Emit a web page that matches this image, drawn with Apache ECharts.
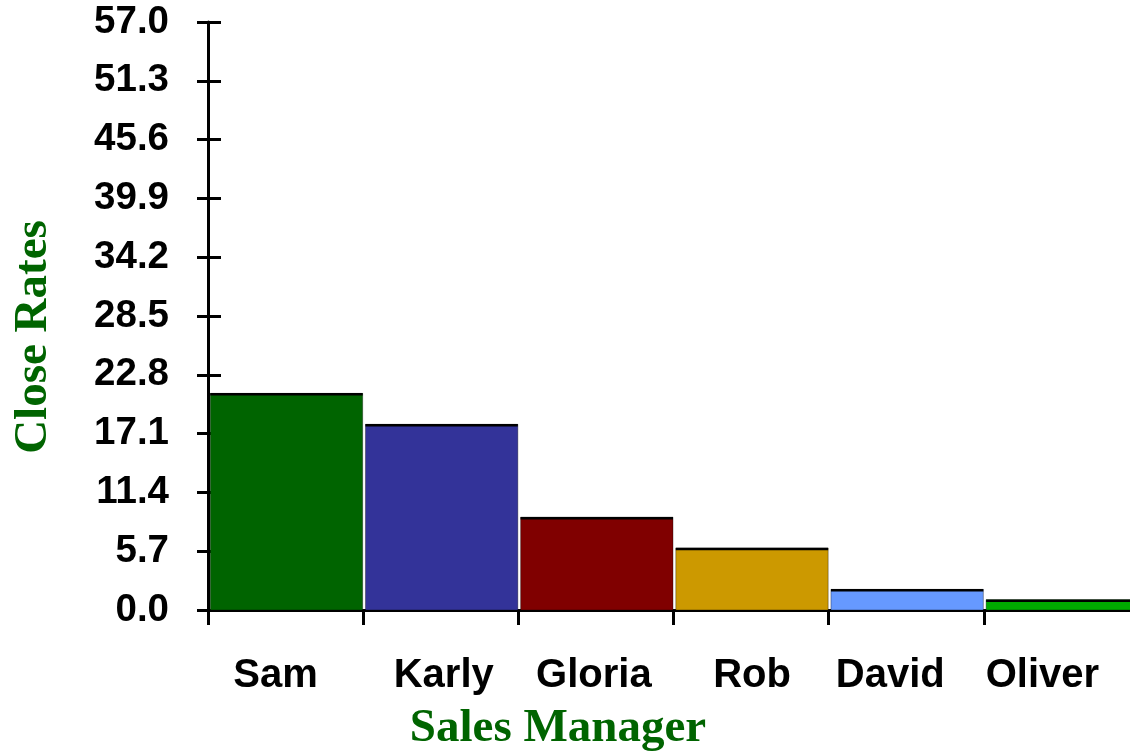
<!DOCTYPE html>
<html>
<head>
<meta charset="utf-8">
<script src="https://cdn.jsdelivr.net/npm/echarts@6/dist/echarts.min.js"></script>
<style>
html,body{margin:0;padding:0;background:#fff;}
#chart{width:1130px;height:751px;}
</style>
</head>
<body>
<div id="chart"></div>
<script>
var categories = ['Sam', 'Karly', 'Gloria', 'Rob', 'David', 'Oliver'];
var closeRates = [21.0, 18.0, 9.0, 6.0, 2.0, 1.0];
var barColors = ['#006400', '#333399', '#800000', '#CC9900', '#6699FF', '#00AA00'];
var labelShift = [-10, 3, -2, 1, -16, -19];
var yMin = 0, yMax = 57, yStep = 5.7;

var chart = echarts.init(document.getElementById('chart'), null, {renderer: 'canvas'});

var labelFont = {fontFamily: '"Liberation Sans", Arial, sans-serif', fontWeight: 'bold', color: '#000'};

var option = {
  animation: false,
  backgroundColor: '#fff',
  grid: {left: 208, top: 22, width: 931, height: 588, containLabel: false, outerBoundsMode: 'none'},
  xAxis: {
    type: 'category',
    data: categories.map(function (c, i) {
      var s = labelShift[i];
      return {value: c, textStyle: {padding: s < 0 ? [0, -2 * s, 0, 0] : [0, 0, 0, 2 * s]}};
    }),
    boundaryGap: true,
    axisLine: {show: true, lineStyle: {color: '#000', width: 3}},
    axisTick: {show: true, length: 15, lineStyle: {color: '#000', width: 3}, alignWithLabel: false},
    axisLabel: Object.assign({fontSize: 40, margin: 46, interval: 0, hideOverlap: false}, labelFont),
    splitLine: {show: false}
  },
  yAxis: [{
    type: 'value',
    min: yMin, max: yMax, interval: yStep,
    axisLine: {show: true, lineStyle: {color: '#000', width: 3}},
    axisTick: {show: true, length: 11, lineStyle: {color: '#000', width: 3}},
    axisLabel: Object.assign({fontSize: 38.5, margin: 39, padding: [14, 0, 0, 0], formatter: function (v) { return v.toFixed(1); }}, labelFont),
    splitLine: {show: false}
  }, {
    type: 'value',
    position: 'left',
    min: yMin, max: yMax, interval: yStep,
    axisLine: {show: false},
    axisTick: {show: true, inside: true, length: 13, lineStyle: {color: '#000', width: 3}},
    axisLabel: {show: false},
    splitLine: {show: false}
  }],
  series: [{
    type: 'custom',
    data: closeRates.map(function (v, i) { return [i, v]; }),
    encode: {x: 0, y: 1},
    renderItem: function (params, api) {
      var idx = api.value(0);
      var v = api.value(1);
      var p0 = api.coord([idx, 0]);
      var p1 = api.coord([idx, v]);
      var bw = api.size([1, 0])[0];
      var x = p0[0] - bw / 2 + 2.3;
      var w = bw - 2.8;
      var color = barColors[idx];
      return {
        type: 'group',
        children: [{
          type: 'rect',
          shape: {x: x, y: p1[1], width: w, height: p0[1] - p1[1]},
          style: {fill: color, stroke: 'rgba(0,0,0,0.35)', lineWidth: 1}
        }, {
          type: 'line',
          shape: {x1: x, y1: p1[1] + 1, x2: x + w, y2: p1[1] + 1},
          style: {stroke: '#000', lineWidth: 2.5}
        }]
      };
    },
    z: 1
  }],
  graphic: [{
    type: 'text',
    x: 34, y: 337,
    rotation: Math.PI / 2,
    style: {
      text: 'Close Rates',
      fontFamily: '"Liberation Serif", "Times New Roman", serif',
      fontWeight: 'bold', fontSize: 47,
      fill: '#006400', align: 'center', verticalAlign: 'middle'
    }
  }, {
    type: 'text',
    x: 558, y: 729,
    style: {
      text: 'Sales Manager',
      fontFamily: '"Liberation Serif", "Times New Roman", serif',
      fontWeight: 'bold', fontSize: 47,
      fill: '#006400', align: 'center', verticalAlign: 'middle'
    }
  }]
};
chart.setOption(option);
</script>
</body>
</html>
